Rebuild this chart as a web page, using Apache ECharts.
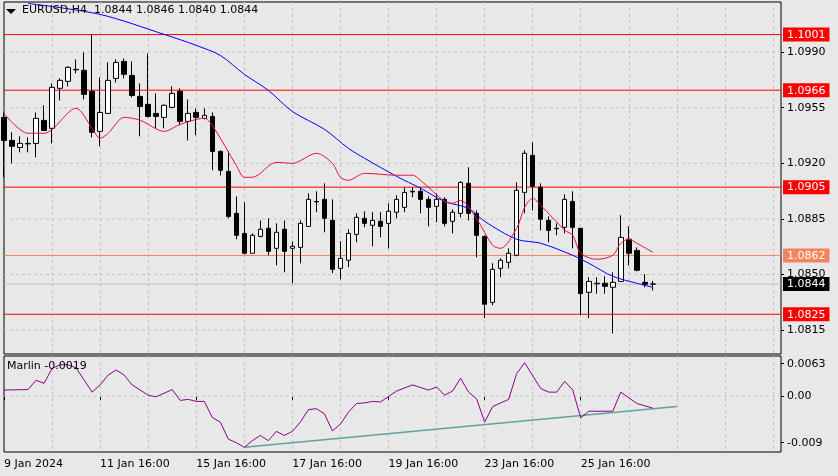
<!DOCTYPE html>
<html><head><meta charset="utf-8">
<script src="https://cdn.jsdelivr.net/npm/echarts@6/dist/echarts.min.js"></script>
<style>html,body{margin:0;padding:0;background:#e8e8e8}#c{width:838px;height:476px}</style>
</head><body><div id="c"></div>
<script>
const opens=[1.09489,1.09344,1.09300,1.09322,1.09325,1.09470,1.09420,1.09672,1.09716,1.09791,1.09785,1.09653,1.09401,1.09514,1.09734,1.09841,1.09753,1.09621,1.09571,1.09514,1.09489,1.09552,1.09653,1.09464,1.09520,1.09483,1.09495,1.09275,1.09149,1.08885,1.08759,1.08634,1.08740,1.08791,1.08665,1.08785,1.08665,1.08671,1.08803,1.08960,1.08973,1.08841,1.08539,1.08590,1.08753,1.08854,1.08810,1.08835,1.08822,1.08892,1.08923,1.09024,1.09024,1.08973,1.08929,1.08973,1.08835,1.08885,1.09074,1.08885,1.08740,1.08325,1.08539,1.08577,1.08621,1.09017,1.09250,1.09049,1.08841,1.08791,1.08797,1.08960,1.08791,1.08388,1.08445,1.08445,1.08420,1.08457,1.08722,1.08652,1.08451,1.0844];
const closes=[1.09344,1.09307,1.09325,1.09325,1.09483,1.09407,1.09678,1.09722,1.09804,1.09788,1.09634,1.09395,1.09520,1.09722,1.09835,1.09760,1.09627,1.09558,1.09495,1.09495,1.09565,1.09640,1.09464,1.09514,1.09489,1.09502,1.09275,1.09156,1.08866,1.08747,1.08634,1.08747,1.08785,1.08646,1.08766,1.08646,1.08678,1.08822,1.08973,1.08957,1.08854,1.08533,1.08602,1.08759,1.08860,1.08822,1.08841,1.08803,1.08898,1.08973,1.09017,1.09020,1.08973,1.08923,1.08973,1.08822,1.08892,1.09080,1.08885,1.08747,1.08313,1.08533,1.08590,1.08634,1.09030,1.09263,1.09055,1.08848,1.08778,1.08788,1.08973,1.08797,1.08380,1.08457,1.08442,1.08426,1.08451,1.08734,1.08634,1.08527,1.08439,1.0844];
const highs=[1.09520,1.09395,1.09370,1.09363,1.09520,1.09565,1.09703,1.09734,1.09810,1.09854,1.09898,1.10011,1.09741,1.09835,1.09854,1.09860,1.09841,1.09703,1.09892,1.09640,1.09571,1.09684,1.09672,1.09602,1.09546,1.09546,1.09520,1.09282,1.09275,1.08992,1.08954,1.08759,1.08841,1.08854,1.08822,1.08841,1.08709,1.08841,1.09011,1.09024,1.09074,1.08973,1.08709,1.08785,1.08885,1.08898,1.08892,1.08892,1.08948,1.08999,1.09049,1.09049,1.09049,1.08992,1.09011,1.08986,1.08910,1.09087,1.09175,1.08904,1.08747,1.08571,1.08602,1.08665,1.09080,1.09282,1.09332,1.09074,1.08866,1.08822,1.09005,1.09024,1.08791,1.08483,1.08483,1.08489,1.08514,1.08873,1.08803,1.08671,1.08502,1.0846];
const lows=[1.09112,1.09200,1.09269,1.09269,1.09237,1.09407,1.09325,1.09596,1.09684,1.09766,1.09602,1.09363,1.09307,1.09514,1.09709,1.09734,1.09615,1.09370,1.09489,1.09420,1.09420,1.09546,1.09439,1.09344,1.09376,1.09476,1.09156,1.09124,1.08854,1.08722,1.08627,1.08634,1.08734,1.08621,1.08558,1.08514,1.08445,1.08571,1.08803,1.08892,1.08766,1.08508,1.08470,1.08546,1.08703,1.08797,1.08678,1.08734,1.08665,1.08854,1.08892,1.08986,1.08885,1.08803,1.08829,1.08803,1.08759,1.08860,1.08841,1.08608,1.08225,1.08307,1.08483,1.08539,1.08615,1.08885,1.08904,1.08778,1.08703,1.08747,1.08759,1.08665,1.08244,1.08225,1.08380,1.08380,1.08130,1.08457,1.08558,1.08520,1.08420,1.0840];
// [bar index, value]
const maSlow=[[3,1.10206],[12,1.10137],[20,1.10011],[24,1.09942],[27,1.09879],[30,1.0976],[33,1.09659],[36,1.09526],[40,1.09414],[43,1.09294],[45,1.09232],[49,1.09118],[52,1.09043],[55,1.0896],[58,1.08916],[60,1.08835],[64,1.08722],[67,1.08697],[71,1.08621],[73,1.08571],[76,1.08489],[79,1.08445],[81,1.0842]];
const maFast=[[0,1.09514],[3,1.09389],[5,1.09389],[9,1.09546],[11,1.0942],[12,1.09357],[13,1.09389],[15,1.09489],[17,1.09471],[20,1.09401],[22,1.09445],[25,1.09483],[26,1.09439],[29,1.09187],[30,1.09112],[31,1.09112],[34,1.09206],[36,1.092],[39,1.09263],[41,1.092],[42,1.09112],[43,1.09093],[45,1.09137],[49,1.09125],[51,1.09125],[52,1.09093],[55,1.08961],[56,1.08949],[57,1.08967],[59,1.08851],[61,1.08684],[62,1.08665],[64,1.08791],[65,1.08923],[66,1.0898],[67,1.08936],[70,1.08779],[71,1.08747],[72,1.08634],[74,1.08596],[76,1.08621],[77,1.08697],[78,1.08722],[79,1.08697],[81,1.0864]];
const marlin=[[0,0.0012],[3,0.0013],[4,0.0031],[5,0.0025],[6,0.0054],[7,0.0061],[8,0.0061],[9,0.0055],[11,0.0008],[12,0.0022],[13,0.0041],[14,0.0051],[15,0.0041],[16,0.0022],[18,0.0002],[19,-0.0001],[21,0.0013],[22,-0.0008],[23,-0.0006],[24,-0.001],[25,-0.001],[26,-0.0041],[27,-0.005],[28,-0.0083],[29,-0.009],[30,-0.0099],[31,-0.0086],[32,-0.0076],[33,-0.0086],[34,-0.0068],[35,-0.0076],[36,-0.0068],[37,-0.005],[38,-0.0026],[39,-0.0024],[40,-0.0034],[41,-0.0067],[42,-0.0054],[43,-0.0031],[44,-0.0014],[45,-0.0013],[46,-0.001],[47,-0.0011],[49,0.001],[51,0.0022],[53,0.0012],[54,0.0018],[55,0.0002],[56,0.001],[57,0.0035],[58,0.0008],[59,-0.0005],[60,-0.005],[61,-0.002],[63,-0.0006],[64,0.0044],[65,0.0065],[67,0.0015],[68,0.0008],[69,0.0008],[70,0.0029],[71,0.0012],[72,-0.0042],[73,-0.0029],[76,-0.0029],[77,0.0008],[79,-0.0014],[81,-0.0023]];
const trendLine=[[30,-0.0099],[84,-0.0020]];
const redLevels=[1.1001,1.0966,1.0905,1.0825];
const orangeLevel=1.0862, lastPrice=1.0844;
const priceTicks=[1.0990,1.0955,1.0920,1.0885,1.0850,1.0815];
const marlinTicks=[0.0063,0,-0.009];
const marlinTickText={'0.0063':'0.0063','0':'0.00','-0.009':'-0.009'};
const xTickLabels={0:'9 Jan 2024',12:'11 Jan 16:00',24:'15 Jan 16:00',36:'17 Jan 16:00',48:'19 Jan 16:00',60:'23 Jan 16:00',72:'25 Jan 16:00'};
const N=98;
const cats=Array.from({length:N},(_,i)=>String(i));

const F='DejaVu Sans';
const grid1={left:4,right:57,top:2,height:352};
const grid2={left:4,right:57,top:356,height:96};
const dashCol='#c4c4c4';
function xAx(gi,labels){return {type:'category',gridIndex:gi,data:cats,boundaryGap:false,
 axisLine:{show:false},axisTick:{show:labels,interval:(i)=>xTickLabels[i]!==undefined,length:4,lineStyle:{color:'#000'}},
 splitLine:{show:true,interval:(i)=>i%6===0&&i>0,lineStyle:{type:[3,3],color:dashCol,width:1}},
 axisLabel:{show:labels,interval:(i)=>xTickLabels[i]!==undefined,formatter:(v,i)=>xTickLabels[i]||'',align:'left',color:'#000',fontFamily:F,fontSize:11,margin:7}};}
const candleData=opens.map((o,i)=>[o,closes[i],lows[i],highs[i]]);
function hline(v,color,dashed,xi,z){return {type:'line',xAxisIndex:xi,yAxisIndex:xi,data:[[0,v],[N-1,v]],showSymbol:false,silent:true,z:z,
  lineStyle:{color:color,width:1,type:dashed?[3,3]:'solid'}};}
const levelVals=[...redLevels,orangeLevel,lastPrice];
function levelLabel(v){ if(v===lastPrice) return '{k|'+v.toFixed(4)+'}'; if(v===orangeLevel) return '{o|'+v.toFixed(4)+'}'; return '{r|'+v.toFixed(4)+'}';}
const box={color:'#fff',padding:[2,4,1,4],fontFamily:F,fontSize:11};
const option={animation:false,backgroundColor:'#e8e8e8',
 grid:[Object.assign({show:true,borderColor:'#000',borderWidth:1},grid1),Object.assign({show:true,borderColor:'#000',borderWidth:1},grid2)],
 xAxis:[xAx(0,false),xAx(1,true)],
 yAxis:[{type:'value',gridIndex:0,position:'right',min:1.0800,max:1.10215,splitLine:{show:false},axisLine:{show:false},
   axisTick:{show:true,length:3,customValues:priceTicks,lineStyle:{color:'#000'}},
   axisLabel:{customValues:priceTicks,formatter:(v)=>v.toFixed(4),color:'#000',fontFamily:F,fontSize:11,margin:6}},
  {type:'value',gridIndex:1,position:'right',min:-0.0108,max:0.0078,splitLine:{show:false},axisLine:{show:false},
   axisTick:{show:true,length:3,customValues:marlinTicks,lineStyle:{color:'#000'}},
   axisLabel:{customValues:marlinTicks,formatter:(v)=>marlinTickText[String(v)]||'',color:'#000',fontFamily:F,fontSize:11,margin:6}},
  {type:'value',gridIndex:0,position:'right',min:1.0800,max:1.10215,splitLine:{show:false},axisLine:{show:false},axisTick:{show:false},
   axisLabel:{customValues:levelVals,formatter:levelLabel,margin:2,
     rich:{r:Object.assign({backgroundColor:'#ff0000'},box),o:Object.assign({backgroundColor:'#f4845c'},box),k:Object.assign({backgroundColor:'#000000'},box)}}}],
 series:[
  ...priceTicks.map(v=>hline(v,dashCol,true,0,1)),
  hline(0,dashCol,true,1,1),
  ...redLevels.map(v=>hline(v,'#ff0000',false,0,2)),
  hline(orangeLevel,'#f4845c',false,0,2),
  hline(lastPrice,'#c0c0c0',false,0,2),
  {type:'candlestick',xAxisIndex:0,yAxisIndex:0,data:candleData,barWidth:5,z:3,
   itemStyle:{color:'#ffffff',color0:'#000000',borderColor:'#000000',borderColor0:'#000000',borderWidth:1}},
  {type:'line',xAxisIndex:0,yAxisIndex:0,data:maSlow,showSymbol:false,lineStyle:{color:'#0000ff',width:1},z:4,smooth:0.3},
  {type:'line',xAxisIndex:0,yAxisIndex:0,data:maFast,showSymbol:false,lineStyle:{color:'#e8103c',width:1},z:4,smooth:0.3},
  {type:'line',xAxisIndex:1,yAxisIndex:1,data:marlin,showSymbol:false,lineStyle:{color:'#8b008b',width:1},z:4},
  {type:'line',xAxisIndex:1,yAxisIndex:1,data:trendLine,showSymbol:false,lineStyle:{color:'#5fa0a0',width:1.5},z:3}
 ],
 graphic:[
  {type:'polygon',shape:{points:[[6,9],[16,9],[11,14]]},style:{fill:'#000'},z:10},
  {type:'text',left:22,top:5,style:{text:'EURUSD,H4  1.0844 1.0846 1.0840 1.0844',fill:'#000',font:'11px '+F},z:10},
  {type:'text',left:7,top:361,style:{text:'Marlin -0.0019',fill:'#000',font:'11px '+F},z:10}
 ]};
echarts.init(document.getElementById('c')).setOption(option);
</script></body></html>
